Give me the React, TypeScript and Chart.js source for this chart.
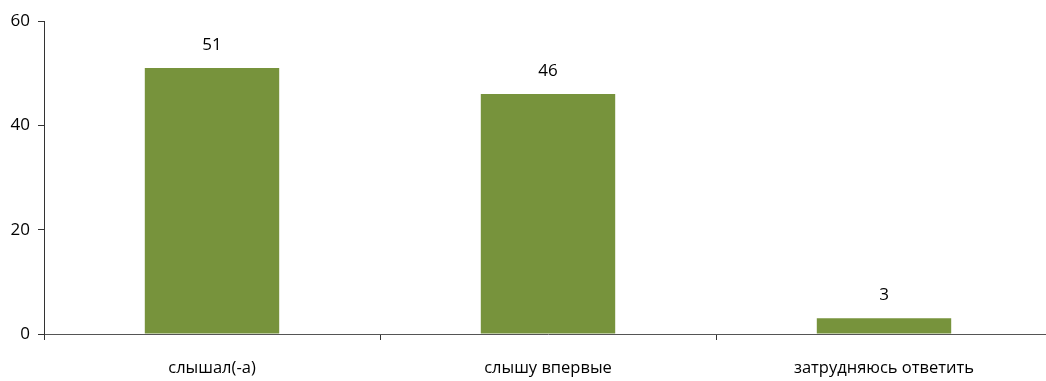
import React, { useEffect, useRef } from "react";
import { Chart, registerables } from "chart.js";

Chart.register(...registerables);

const categories = ["слышал(-а)", "слышу впервые", "затрудняюсь ответить"];
const values = [51, 46, 3];
const yTicks = [0, 20, 40, 60];

const FONT = "'Open Sans', sans-serif";

export default function App() {
  const ref = useRef<HTMLCanvasElement | null>(null);

  useEffect(() => {
    document.body.style.margin = "0";
    const canvas = ref.current!;
    const labelPlugin = {
      id: "barLabels",
      afterDatasetsDraw(chart: any) {
        const ctx = chart.ctx;
        const meta = chart.getDatasetMeta(0);
        ctx.save();
        ctx.fillStyle = "#000";
        ctx.font = `500 17px ${FONT}`;
        ctx.textAlign = "center";
        ctx.textBaseline = "middle";
        meta.data.forEach((bar: any, i: number) => {
          ctx.fillText(String(values[i]), bar.x, bar.y - 23);
        });
        ctx.restore();
      },
    };
    const chart = new Chart(canvas, {
      type: "bar",
      data: {
        labels: categories,
        datasets: [
          {
            data: values,
            backgroundColor: "#77933c",
            borderWidth: 0,
            barPercentage: 0.8,
            categoryPercentage: 0.5,
          },
        ],
      },
      options: {
        animation: false,
        responsive: false,
        maintainAspectRatio: false,
        layout: { padding: { top: 21, right: 0, left: 0, bottom: 0 } },
        plugins: { legend: { display: false }, tooltip: { enabled: false } },
        scales: {
          x: {
            grid: {
              offset: true,
              drawOnChartArea: false,
              drawTicks: true,
              tickLength: 6,
              color: "#333",
            },
            border: { display: true, color: "#555", width: 1 },
            ticks: {
              color: "#000",
              font: { family: FONT, size: 16.5, weight: 500 },
              padding: 18,
              maxRotation: 0,
            },
            afterFit(scale: any) {
              scale.height = 47;
            },
          },
          y: {
            min: 0,
            max: 60,
            afterBuildTicks(scale: any) {
              scale.ticks = yTicks.map((v) => ({ value: v }));
            },
            grid: {
              drawOnChartArea: false,
              drawTicks: true,
              tickLength: 6,
              color: "#333",
            },
            border: { display: true, color: "#333", width: 1 },
            ticks: {
              color: "#000",
              font: { family: FONT, size: 17, weight: 500 },
              padding: 8,
            },
            afterFit(scale: any) {
              scale.width = 44;
            },
          },
        },
      },
      plugins: [labelPlugin],
    });
    return () => chart.destroy();
  }, []);

  return (
    <div
      style={{
        position: "fixed",
        left: 0,
        top: 0,
        width: 1046,
        height: 381,
        overflow: "hidden",
        background: "#fff",
      }}
    >
      <canvas ref={ref} width={1052} height={381} style={{ display: "block" }} />
    </div>
  );
}
